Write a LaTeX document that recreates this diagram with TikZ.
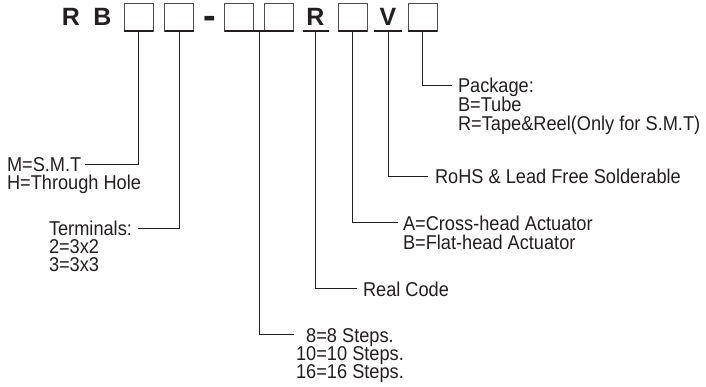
\documentclass[tikz,border=0pt]{standalone}
\usepackage{fontspec}
\setmainfont{Liberation Sans}
\newfontfamily\lblfont{Liberation Sans}[FakeStretch=0.91]
\usetikzlibrary{calc}
\definecolor{ink}{HTML}{231F20}
\begin{document}
\begin{tikzpicture}[x=1pt,y=-1pt,
  hbox/.style={draw=ink!80, line width=0.7pt, minimum width=29pt, minimum height=28pt, inner sep=0pt, outer sep=0pt},
  hlet/.style={text=ink, font=\bfseries\fontsize{25}{25}\selectfont, minimum height=28pt, minimum width=26pt, text height=18pt, text depth=0pt, inner sep=0pt, outer sep=0pt},
  uline/.style={draw=ink, line width=1.5pt},
  conn/.style={draw=ink, line width=0.9pt},
  lbl/.style={text=ink, font=\lblfont\fontsize{20}{20}\selectfont, inner sep=0pt, outer sep=0pt, text height=16pt, text depth=0pt, anchor=base west},
  lblc/.style={lbl, anchor=base},
]
\useasboundingbox (0,0) rectangle (706,387);
% heading
\node[hlet] (hR) at (71,17) {R};
\node[hlet] (hB) at (102.5,17) {B};
\node[hbox] (b1) at (138.5,17) {};
\node[hbox] (b2) at (179,17) {};
\node[hlet, font=\bfseries\fontsize{38}{38}\selectfont] (hdash) at (210,19.5) {-};
\node[hbox] (b3) at (239,17) {};
\node[hbox] (b4) at (279,17) {};
\node[hlet] (hr2) at (315.5,17) {R};
\node[hbox] (b5) at (352.5,17) {};
\node[hlet, minimum width=28pt] (hv) at (388,17) {V};
\node[hbox] (b6) at (422.5,17) {};
\coordinate (j34) at ($(b3.south east)!0.5!(b4.south west)$);
% underlines
\draw[uline] (b1.south west) -- (b1.south east);
\draw[uline] (b2.south west) -- (b2.south east);
\draw[uline] (b3.south west) -- (b4.south east);
\draw[uline] (hr2.south west) -- (hr2.south east);
\draw[uline] (b5.south west) -- (b5.south east);
\draw[uline] (hv.south west) -- (hv.south east);
\draw[uline] (b6.south west) -- (b6.south east);
% labels
\node[lbl] (smt) at (7,172) {M=S.M.T};
\node[lbl] (th) at (7,190) {H=Through Hole};
\node[lbl] (term) at (49,236) {Terminals:};
\node[lbl] (t2) at (49,254) {2=3x2};
\node[lbl] (t3) at (49,271) {3=3x3};
\node[lblc] (st1) at (350,342) {8=8 Steps.};
\node[lblc] (st2) at (350,360) {10=10 Steps.};
\node[lblc] (st3) at (350,378) {16=16 Steps.};
\node[lbl] (real) at (363,296) {Real Code};
\node[lbl] (cross) at (403,230) {A=Cross-head Actuator};
\node[lbl] (flat) at (403,249) {B=Flat-head Actuator};
\node[lbl] (rohs) at (435,184) {RoHS \& Lead Free Solderable};
\node[lbl] (pkg) at (458,93) {Package:};
\node[lbl] (tube) at (458,112) {B=Tube};
\node[lbl] (tape) at (458,130.5) {R=Tape\&Reel(Only for S.M.T)};
% connectors
\draw[conn, shorten >=3.5pt] (b1.south) |- (smt.east);
\draw[conn, shorten >=6pt] (b2.south) |- (term.east);
\draw[conn, shorten >=12pt] (j34) |- (st1.west);
\draw[conn, shorten >=6pt] (hr2.south) |- (real.west);
\draw[conn, shorten >=5pt] (b5.south) |- (cross.west);
\draw[conn, shorten >=7pt] (hv.south) |- (rohs.west);
\draw[conn, shorten >=6pt] (b6.south) |- (pkg.west);
\end{tikzpicture}
\end{document}
